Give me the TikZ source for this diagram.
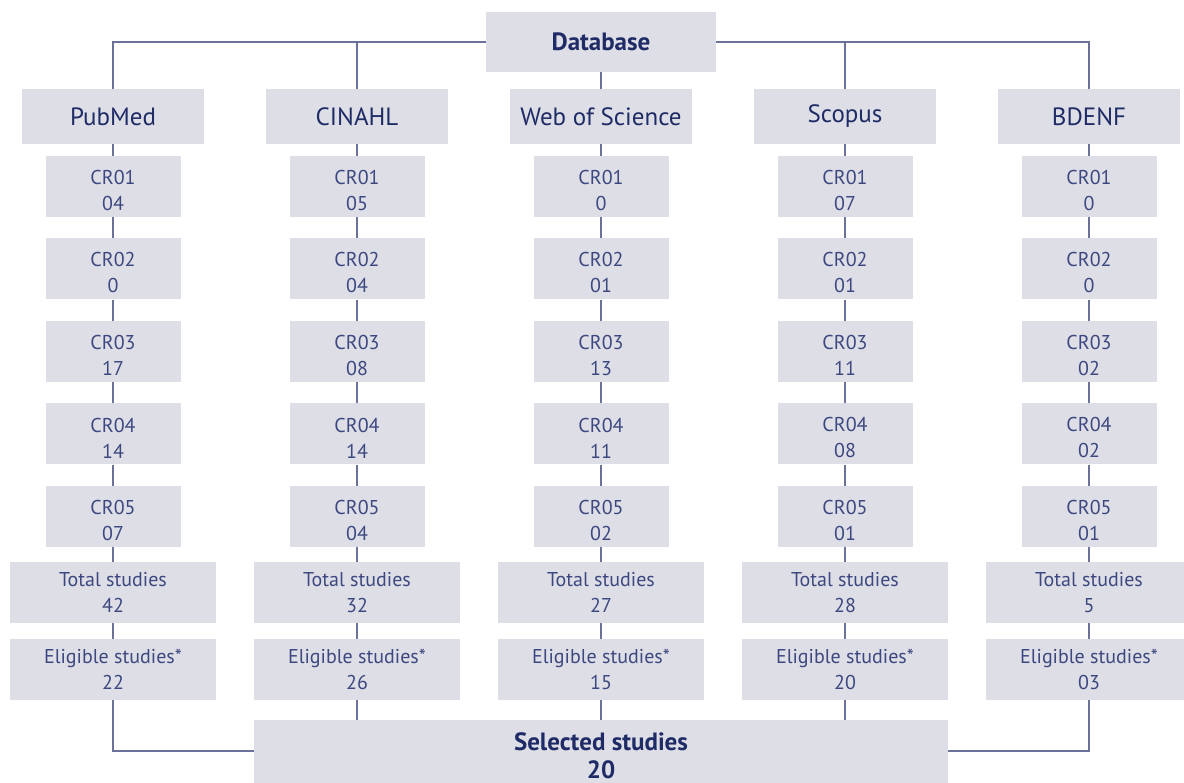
\documentclass[tikz,border=0pt]{standalone}
\usepackage{fontspec}
\setmainfont{PT Sans}
\definecolor{boxfill}{HTML}{DEDEE6}
\definecolor{headtext}{HTML}{1F2B66}
\definecolor{bodytext}{HTML}{3D4880}
\definecolor{linecol}{HTML}{6A7299}
\begin{document}
\begin{tikzpicture}[x=1pt,y=-1pt,
  box/.style={fill=boxfill,draw=none,inner sep=0pt,align=center},
  dbbox/.style={box,minimum width=230pt,minimum height=60pt,font=\fontsize{25}{28}\selectfont\bfseries,text=headtext},
  headbox/.style={box,minimum width=182pt,minimum height=55pt,font=\fontsize{25}{28}\selectfont,text=headtext},
  crbox/.style={box,minimum width=135pt,minimum height=61pt},
  crtext/.style={inner sep=0pt,align=center,font=\fontsize{20}{26}\selectfont,text=bodytext,yshift=-4pt},
  sumbox/.style={box,minimum width=206pt,minimum height=61pt,font=\fontsize{20}{26}\selectfont,text=bodytext},
  selbox/.style={box,minimum width=694pt,minimum height=72pt,font=\fontsize{25}{28}\selectfont\bfseries,text=headtext},
  conn/.style={draw=linecol,line width=2pt}]
\useasboundingbox (0,0) rectangle (1184,783);
\node[dbbox] (db) at (601,42) {Database};
\node[selbox] (sel) at (601,756) {Selected studies\\20};
\foreach \k/\name/\a/\b/\c/\d/\e/\t/\el in {
  0/PubMed/04/0/17/14/07/42/22,
  1/CINAHL/05/04/08/14/04/32/26,
  2/Web of Science/0/01/13/11/02/27/15,
  3/Scopus/07/01/11/08/01/28/20,
  4/BDENF/0/0/02/02/01/5/03}{
  \pgfmathsetmacro{\cx}{113+244*\k}
  \node[headbox] (h\k) at (\cx,116.5) {\name};
  \node[crbox,label={[crtext]center:CR01\\\a}] (c\k1) at (\cx,186.5) {};
  \node[crbox,label={[crtext]center:CR02\\\b}] (c\k2) at (\cx,269) {};
  \node[crbox,label={[crtext]center:CR03\\\c}] (c\k3) at (\cx,351.5) {};
  \node[crbox,label={[crtext]center:CR04\\\d}] (c\k4) at (\cx,434) {};
  \node[crbox,label={[crtext]center:CR05\\\e}] (c\k5) at (\cx,516.5) {};
  \node[sumbox] (t\k) at (\cx,592.5) {Total studies\\\t};
  \node[sumbox] (e\k) at (\cx,669.5) {Eligible studies*\\\el};
  \draw[conn] (h\k.south) -- (c\k1.north);
  \draw[conn] (c\k1.south) -- (c\k2.north);
  \draw[conn] (c\k2.south) -- (c\k3.north);
  \draw[conn] (c\k3.south) -- (c\k4.north);
  \draw[conn] (c\k4.south) -- (c\k5.north);
  \draw[conn] (c\k5.south) -- (t\k.north);
  \draw[conn] (t\k.south) -- (e\k.north);
}
\draw[conn] (db.west) -| (h0.north);
\draw[conn] (db.east) -| (h4.north);
\draw[conn] (h1.north) |- (db.west);
\draw[conn] (h3.north) |- (db.east);
\draw[conn] (db.south) -- (h2.north);
\draw[conn] (e0.south) |- ([yshift=5pt]sel.west);
\draw[conn] (e4.south) |- ([yshift=5pt]sel.east);
\draw[conn] (e1.south) -- (e1.south |- sel.north);
\draw[conn] (e2.south) -- (sel.north);
\draw[conn] (e3.south) -- (e3.south |- sel.north);
\end{tikzpicture}
\end{document}
